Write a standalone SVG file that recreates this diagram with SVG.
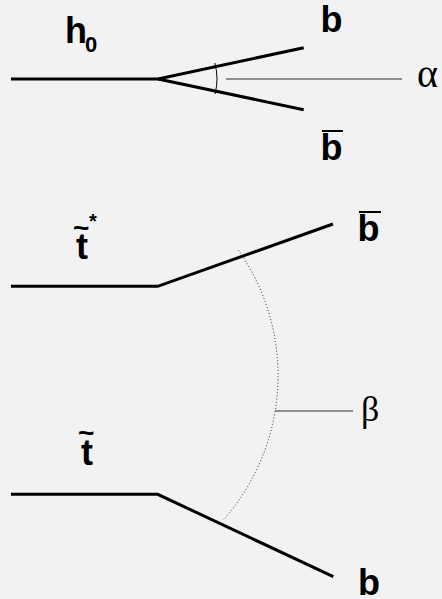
<svg xmlns="http://www.w3.org/2000/svg" width="442" height="599" viewBox="0 0 442 599">
  <style>
    .lbl { font-family: "Liberation Sans", Arial, sans-serif; font-weight: bold; fill: #000; }
    .greek { font-family: "Liberation Serif", "Times New Roman", serif; fill: #000; }
    .ptl { fill: none; stroke: #000; stroke-width: 3; stroke-linejoin: miter; }
    .pointer { stroke: #6e6e6e; stroke-width: 1.5; }
    .bar { stroke: #000; stroke-width: 2; }
  </style>
  <rect width="442" height="599" fill="#f2f2f2"/>

  <g id="connectors">
    <polyline class="ptl" points="11,79 158,79 303.7,47.7"/>
    <line class="ptl" x1="158" y1="79" x2="303.7" y2="109.7"/>
    <polyline class="ptl" points="11,286.3 157.7,286.3 333,224"/>
    <polyline class="ptl" points="11,494.3 157.7,494.3 333.3,576.7"/>
    <path d="M214.8,63 A59,59 0 0 1 215,94" fill="none" stroke="#000" stroke-width="1"/>
    <line class="pointer" x1="226" y1="79" x2="402" y2="79"/>
    <path d="M238.3,250 A218,218 0 0 1 223.3,520" fill="none" stroke="#222" stroke-width="1" stroke-dasharray="1 2.2"/>
    <line class="pointer" x1="275" y1="411" x2="353" y2="411"/>
  </g>

  <g id="h0">
    <text class="lbl" x="65" y="43" font-size="36">h<tspan x="85" y="52" font-size="22">0</tspan></text>
  </g>
  <g id="b-top">
    <text class="lbl" x="320.5" y="32" font-size="36">b</text>
  </g>
  <g id="bbar-top">
    <line class="bar" x1="322" y1="131" x2="343" y2="131"/>
    <text class="lbl" x="320.5" y="160" font-size="36">b</text>
  </g>
  <g id="alpha">
    <text class="greek" x="417" y="87" font-size="40">α</text>
  </g>

  <g id="tstar">
    <text class="lbl" x="76" y="259" font-size="36">t<tspan x="73" y="237" font-size="28">~</tspan><tspan x="89" y="228" font-size="20">*</tspan></text>
  </g>
  <g id="bbar-mid">
    <line class="bar" x1="359" y1="212" x2="381" y2="212"/>
    <text class="lbl" x="357.5" y="241" font-size="36">b</text>
  </g>
  <g id="beta">
    <text class="greek" x="361" y="421" font-size="36">β</text>
  </g>
  <g id="t">
    <text class="lbl" x="81" y="465" font-size="36">t<tspan x="78" y="442" font-size="28">~</tspan></text>
  </g>
  <g id="b-bottom">
    <text class="lbl" x="358" y="595" font-size="36">b</text>
  </g>
</svg>
